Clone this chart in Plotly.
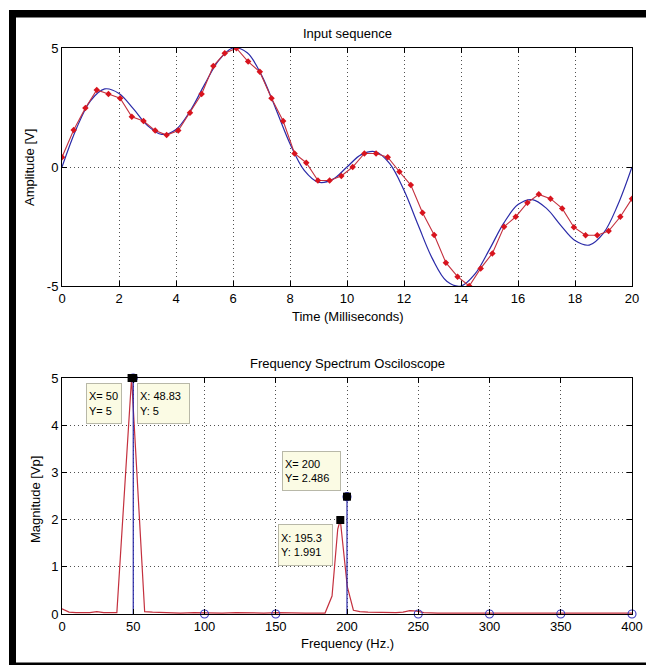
import plotly.graph_objects as go

# ---------------- data ----------------
# analog input signal (blue), read every 0.5 ms
t_signal = [0.0, 0.5, 1.0, 1.5, 2.0, 2.5, 3.0, 3.5, 4.0, 4.5, 5.0, 5.5, 6.0, 6.5, 7.0, 7.5,
            8.0, 8.5, 9.0, 9.5, 10.0, 10.5, 11.0, 11.5, 12.0, 12.5, 13.0, 13.5, 14.0, 14.5,
            15.0, 15.5, 16.0, 16.5, 17.0, 17.5, 18.0, 18.5, 19.0, 19.5, 20.0]
v_signal = [0.0, 1.60, 2.78, 3.28, 3.09, 2.45, 1.74, 1.37, 1.58, 2.36, 3.46, 4.48, 5.00, 4.80,
            3.86, 2.45, 0.98, -0.14, -0.64, -0.52, 0.0, 0.52, 0.64, 0.14, -0.98, -2.45, -3.86,
            -4.80, -5.00, -4.48, -3.46, -2.36, -1.58, -1.37, -1.74, -2.45, -3.09, -3.28, -2.78,
            -1.60, 0.0]

# sampled sequence (red markers)
t_samples = [0.00, 0.41, 0.82, 1.22, 1.63, 2.04, 2.45, 2.86, 3.27, 3.67, 4.08, 4.49, 4.90,
             5.31, 5.71, 6.12, 6.53, 6.94, 7.35, 7.76, 8.16, 8.57, 8.98, 9.39, 9.80, 10.20,
             10.61, 11.02, 11.43, 11.84, 12.24, 12.65, 13.06, 13.47, 13.88, 14.29, 14.69,
             15.10, 15.51, 15.92, 16.33, 16.73, 17.14, 17.55, 17.96, 18.37, 18.78, 19.18,
             19.59, 20.00]
v_samples = [0.41, 1.55, 2.48, 3.24, 3.07, 2.89, 2.11, 1.93, 1.53, 1.34, 1.53, 2.28, 3.07,
             4.24, 4.78, 4.99, 4.43, 4.00, 2.89, 1.93, 0.57, 0.18, -0.57, -0.57, -0.38, 0.0,
             0.57, 0.57, 0.41, -0.20, -0.76, -1.92, -2.86, -4.02, -4.61, -5.00, -4.26, -3.63,
             -2.51, -2.09, -1.50, -1.15, -1.33, -1.74, -2.53, -2.87, -2.87, -2.69, -2.09, -1.33]

# measured spectrum (red curve)
spec_freq = [0, 4.9, 9.8, 14.6, 19.5, 24.4, 29.3, 34.2, 38.5, 48.83, 58.0, 63.5,
             73.2, 83.0, 92.8, 102.5, 112.3, 122.1, 131.8, 141.6, 151.4, 161.1, 170.9, 180.7,
             184.6, 189.5, 193.5, 195.3, 200.2, 204.5, 209.0,
             214.8, 224.6, 234.4, 239.3, 244.1, 249.0, 253.9,
             263.7, 273.4, 283.2, 293.0, 302.7, 312.5, 322.3, 332.0, 341.8, 351.6, 361.3,
             371.1, 380.9, 390.6, 400]
spec_mag = [0.11, 0.04, 0.03, 0.03, 0.03, 0.05, 0.03, 0.03, 0.03, 5.0, 0.05, 0.04,
            0.03, 0.02, 0.03, 0.02, 0.02, 0.03, 0.02, 0.02, 0.03, 0.02, 0.02, 0.02,
            0.02, 0.38, 1.80, 1.991, 0.58, 0.08, 0.05,
            0.04, 0.03, 0.03, 0.04, 0.07, 0.06, 0.03,
            0.02, 0.02, 0.02, 0.02, 0.02, 0.02, 0.02, 0.02, 0.02, 0.02, 0.02,
            0.02, 0.02, 0.02, 0.02]

# theoretical spectrum (blue stems)
stem_freq = [50, 100, 150, 200, 250, 300, 350, 400]
stem_mag = [5, 0, 0, 2.486, 0, 0, 0, 0]

# data tips
tip_x = [50, 48.83, 200, 195.3]
tip_y = [5, 5, 2.486, 1.991]
tip_sep = ["= ", ": ", "= ", ": "]

top_xticks = [0, 2, 4, 6, 8, 10, 12, 14, 16, 18, 20]
top_yticks = [-5, 0, 5]
bot_xticks = [0, 50, 100, 150, 200, 250, 300, 350, 400]
bot_yticks = [0, 1, 2, 3, 4, 5]

# ---------------- layout helpers ----------------
W, H = 646, 665
ML, MR, MT, MB = 62, 14, 48, 51
PW, PH = W - ML - MR, H - MT - MB


def px_x(px):
    return (px - ML) / PW


def px_y(py):
    return (H - MB - py) / PH


FONT = "Liberation Sans, Arial, sans-serif"
RED_LINE = "#c4303e"
RED_MARK = "#d8141e"
BLUE = "#2a2aa8"

fig = go.Figure()

fig.add_trace(go.Scatter(x=t_signal, y=v_signal, mode="lines", line=dict(color=BLUE, width=1.2, shape="spline", smoothing=1.0),
                         xaxis="x", yaxis="y", hoverinfo="skip"))
fig.add_trace(go.Scatter(x=t_samples, y=v_samples, mode="lines+markers",
                         line=dict(color=RED_LINE, width=1.1),
                         marker=dict(symbol="diamond", size=5, color=RED_MARK, line=dict(width=0)),
                         xaxis="x", yaxis="y", hoverinfo="skip"))

fig.add_trace(go.Scatter(x=spec_freq, y=spec_mag, mode="lines", line=dict(color=RED_LINE, width=1.2),
                         xaxis="x2", yaxis="y2", hoverinfo="skip"))

sx, sy = [], []
for f, m in zip(stem_freq, stem_mag):
    sx += [f, f, None]
    sy += [0, m, None]
fig.add_trace(go.Scatter(x=sx, y=sy, mode="lines", line=dict(color=BLUE, width=1.2),
                         xaxis="x2", yaxis="y2", hoverinfo="skip"))
fig.add_trace(go.Scatter(x=stem_freq, y=stem_mag, mode="markers",
                         marker=dict(symbol="circle-open", size=8, color="#3a3ac0", line=dict(width=1.1)),
                         cliponaxis=False, xaxis="x2", yaxis="y2", hoverinfo="skip"))
fig.add_trace(go.Scatter(x=tip_x, y=tip_y, mode="markers",
                         marker=dict(symbol="square", size=8, color="black"),
                         cliponaxis=False, xaxis="x2", yaxis="y2", hoverinfo="skip"))

axis_common = dict(showline=True, linecolor="black", linewidth=1, mirror="ticks",
                   ticks="inside", ticklen=5, tickcolor="black", tickwidth=1,
                   showgrid=True, gridcolor="#505050", gridwidth=1, griddash="1px,3px",
                   zeroline=False, tickfont=dict(family=FONT, size=13, color="black"),
                   fixedrange=True, automargin=False)

fig.update_layout(
    width=W, height=H, autosize=False,
    margin=dict(l=ML, r=MR, t=MT, b=MB, autoexpand=False),
    paper_bgcolor="white", plot_bgcolor="white",
    showlegend=False, hovermode=False,
    xaxis=dict(axis_common, domain=[0, 1], anchor="y", range=[0, 20],
               tickvals=top_xticks, ticktext=[str(v) for v in top_xticks]),
    yaxis=dict(axis_common, domain=[px_y(286), 1], anchor="x", range=[-5, 5],
               tickvals=top_yticks, ticktext=[str(v) for v in top_yticks]),
    xaxis2=dict(axis_common, domain=[0, 1], anchor="y2", range=[0, 400],
                tickvals=bot_xticks, ticktext=[str(v) for v in bot_xticks]),
    yaxis2=dict(axis_common, domain=[0, px_y(378)], anchor="x2", range=[0, 5],
                tickvals=bot_yticks, ticktext=[str(v) for v in bot_yticks]),
)

# titles and axis labels
texts = [
    ("Input sequence", px_x(347), px_y(33), 0),
    ("Time (Milliseconds)", px_x(347), px_y(316), 0),
    ("Amplitude [V]", px_x(30), px_y(168), -90),
    ("Frequency Spectrum Osciloscope", px_x(347), px_y(363), 0),
    ("Frequency (Hz.)", px_x(347), px_y(643), 0),
    ("Magnitude [Vp]", px_x(35), px_y(500), -90),
]
for txt, x, y, ang in texts:
    fig.add_annotation(text=txt, x=x, y=y, xref="paper", yref="paper", showarrow=False,
                       xanchor="center", yanchor="middle", textangle=ang,
                       font=dict(family=FONT, size=13, color="black"))

# data tip boxes (left, top, width, height in px)
boxes = [(86, 383, 36, 41), (137, 383, 53, 41), (282, 451, 59, 40), (278, 524, 55, 42)]
for (bx, by, bw, bh), x, y, sep in zip(boxes, tip_x, tip_y, tip_sep):
    fig.add_annotation(text=f"X{sep}{x:g}<br>Y{sep}{y:g}", x=px_x(bx), y=px_y(by),
                       xref="paper", yref="paper", showarrow=False,
                       xanchor="left", yanchor="top", align="left", valign="middle",
                       width=bw - 6, height=bh - 6, borderpad=2, borderwidth=1,
                       bordercolor="#b8b8a8", bgcolor="#fbfbe4",
                       font=dict(family=FONT, size=11, color="black"))

# black window frame
frame = [(9, 10, 646, 17.5), (9, 10, 16, 665), (9, 662.5, 646, 665)]
for x0, y0, x1, y1 in frame:
    fig.add_shape(type="rect", xref="paper", yref="paper",
                  x0=px_x(x0), x1=px_x(x1), y0=px_y(y0), y1=px_y(y1),
                  fillcolor="black", line=dict(width=0), layer="above")

post = ("document.documentElement.style.overflow='hidden';"
        "document.body.style.overflow='hidden';document.body.style.margin='0';")
fig.write_html("out.html", config={"displayModeBar": False, "responsive": False},
               post_script=post)
